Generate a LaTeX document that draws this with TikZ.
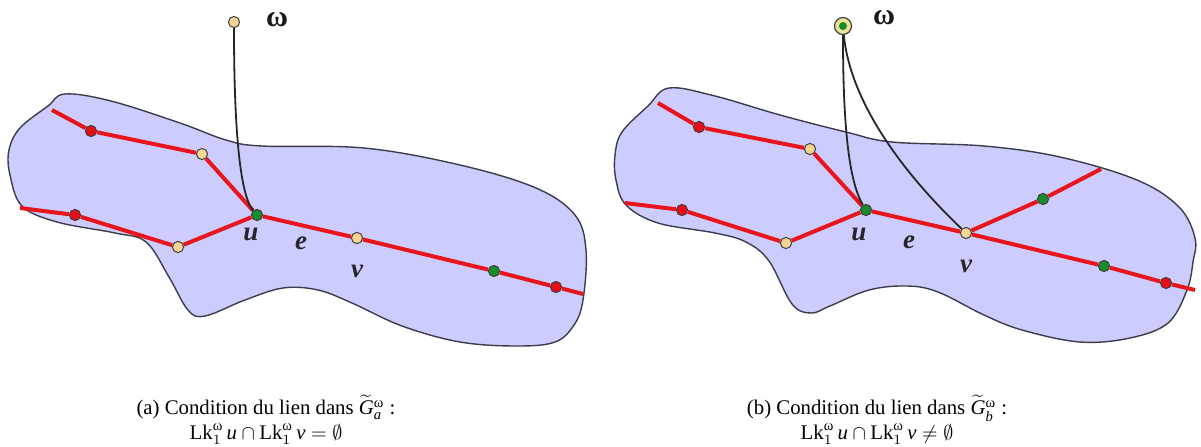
\documentclass[tikz,border=0pt]{standalone}
\usepackage{fontspec}
\setmainfont{Liberation Serif}
\usepackage{amsmath}
\pgfdeclarelayer{bg}
\pgfsetlayers{bg,main}
\definecolor{blobfill}{RGB}{204,204,255}
\definecolor{blobline}{RGB}{60,60,75}
\definecolor{redline}{RGB}{232,22,28}
\definecolor{dotred}{RGB}{232,12,22}
\definecolor{dotyellow}{RGB}{250,212,145}
\definecolor{dotgreen}{RGB}{22,140,42}
\definecolor{ringfill}{RGB}{236,226,150}
\tikzset{
  dotbase/.style={circle, draw=black!75, line width=0.5pt, inner sep=0pt, minimum size=5.6pt},
  rdot/.style={dotbase, fill=dotred},
  ydot/.style={dotbase, fill=dotyellow},
  gdot/.style={dotbase, fill=dotgreen},
  ringdot/.style={circle, draw=black!75, line width=0.6pt, fill=ringfill, inner sep=0pt, minimum size=8.5pt},
  innerdot/.style={circle, fill=dotgreen, inner sep=0pt, minimum size=4pt},
  rededge/.style={draw=redline, line width=2pt},
  link/.style={draw=black!85, line width=0.9pt},
  blob/.style={fill=blobfill, draw=blobline, line width=0.7pt},
  vlabel/.style={font=\fontsize{13.5}{15}\selectfont\bfseries\itshape, text=black!85},
  wlabel/.style={font=\fontsize{15}{17}\selectfont\bfseries, text=black!90},
  caption/.style={font=\fontsize{10.4}{12.4}\selectfont, align=center}
}
\begin{document}
\begin{tikzpicture}[x=0.5pt,y=-0.5pt]
\useasboundingbox (0,0) rectangle (1201,446);

% ---------------- left panel ----------------
\begin{pgfonlayer}{bg}
\draw[blob] plot[smooth cycle, tension=0.6] coordinates {
 (65,94) (111,101) (180,123) (226,140) (262,146) (364,148) (460,165) (536,188)
 (575,215) (586,250) (583,300) (574,325) (555,342) (517,346) (460,342) (402,326)
 (352,303) (318,290) (283,288) (245,300) (205,316) (188,310) (169,277) (146,242)
 (115,233) (57,222) (22,206) (10,175) (9,150) (20,128) (48,106)};
\end{pgfonlayer}

\node[ydot] (aw) at (234,22) {};
\node[wlabel] (awl) at (277,20) {ω};
\node[rdot] (ar1) at (91,131) {};
\node[ydot] (ay1) at (202,154) {};
\node[rdot] (ar2) at (75,215) {};
\node[ydot] (ay2) at (178,247) {};
\node[gdot] (au) at (257,215) {};
\node[ydot] (av) at (357,238) {};
\node[gdot] (ag) at (494,271) {};
\node[rdot] (ar3) at (556,287) {};
\coordinate (as1) at (52,110);
\coordinate (as2) at (20,208);
\coordinate (ae1) at (583,294);

\begin{pgfonlayer}{bg}
\draw[rededge] (as1) -- (ar1) -- (ay1) -- (au);
\draw[rededge] (as2) -- (ar2) -- (ay2) -- (au);
\draw[rededge] (au) -- (av) -- (ag) -- (ar3) -- (ae1);
\draw[link] (aw) .. controls (234,130) and (240,195) .. (au);
\end{pgfonlayer}

\node[vlabel] (aul) at (251,234) {u};
\node[vlabel] (ael) at (301,243) {e};
\node[vlabel] (avl) at (357,271) {v};

\node[caption] (capa) at (266,420) {(a) Condition du lien dans $\widetilde{\mathit{G}}^{\text{ω}}_{\mathit{a}}$ :\\
$\mathrm{Lk}^{\text{ω}}_{1}\,\mathit{u}\cap\mathrm{Lk}^{\text{ω}}_{1}\,\mathit{v}=\emptyset$};

% ---------------- right panel ----------------
\begin{pgfonlayer}{bg}
\draw[blob] plot[smooth cycle, tension=0.6] coordinates {
 (669,88) (715,96) (780,115) (846,132) (892,142) (984,146) (1060,157) (1137,180)
 (1179,207) (1195,238) (1193,262) (1187,290) (1168,323) (1130,338) (1080,342) (1022,330)
 (984,315) (938,292) (907,286) (869,290) (830,306) (811,313) (792,304) (769,261)
 (746,242) (715,233) (658,223) (626,205) (616,180) (615,155) (622,132) (648,106)};
\end{pgfonlayer}

\node[ringdot] (bw) at (843,26) {};
\node[innerdot] (bwi) at (bw.center) {};
\node[wlabel] (bwl) at (884,18) {ω};
\node[rdot] (br1) at (699,127) {};
\node[ydot] (by1) at (810,149) {};
\node[rdot] (br2) at (682,210) {};
\node[ydot] (by2) at (786,243) {};
\node[gdot] (bu) at (866,210) {};
\node[ydot] (bv) at (966,233) {};
\node[gdot] (bg1) at (1043,199) {};
\node[gdot] (bg2) at (1104,266) {};
\node[rdot] (br3) at (1166,283) {};
\coordinate (bs1) at (658,103);
\coordinate (bs2) at (625,203);
\coordinate (be1) at (1195,290);
\coordinate (be2) at (1101,169);

\begin{pgfonlayer}{bg}
\draw[rededge] (bs1) -- (br1) -- (by1) -- (bu);
\draw[rededge] (bs2) -- (br2) -- (by2) -- (bu);
\draw[rededge] (bu) -- (bv) -- (bg2) -- (br3) -- (be1);
\draw[rededge] (bv) -- (bg1) -- (be2);
\draw[link] (bw) .. controls (843,120) and (848,180) .. (bu);
\draw[link] (bw) .. controls (850,100) and (900,170) .. (bv);
\end{pgfonlayer}

\node[vlabel] (bul) at (859,234) {u};
\node[vlabel] (bel) at (909,242) {e};
\node[vlabel] (bvl) at (966,266) {v};

\node[caption] (capb) at (877,420) {(b) Condition du lien dans $\widetilde{\mathit{G}}^{\text{ω}}_{\mathit{b}}$ :\\
$\mathrm{Lk}^{\text{ω}}_{1}\,\mathit{u}\cap\mathrm{Lk}^{\text{ω}}_{1}\,\mathit{v}\neq\emptyset$};
\end{tikzpicture}
\end{document}
